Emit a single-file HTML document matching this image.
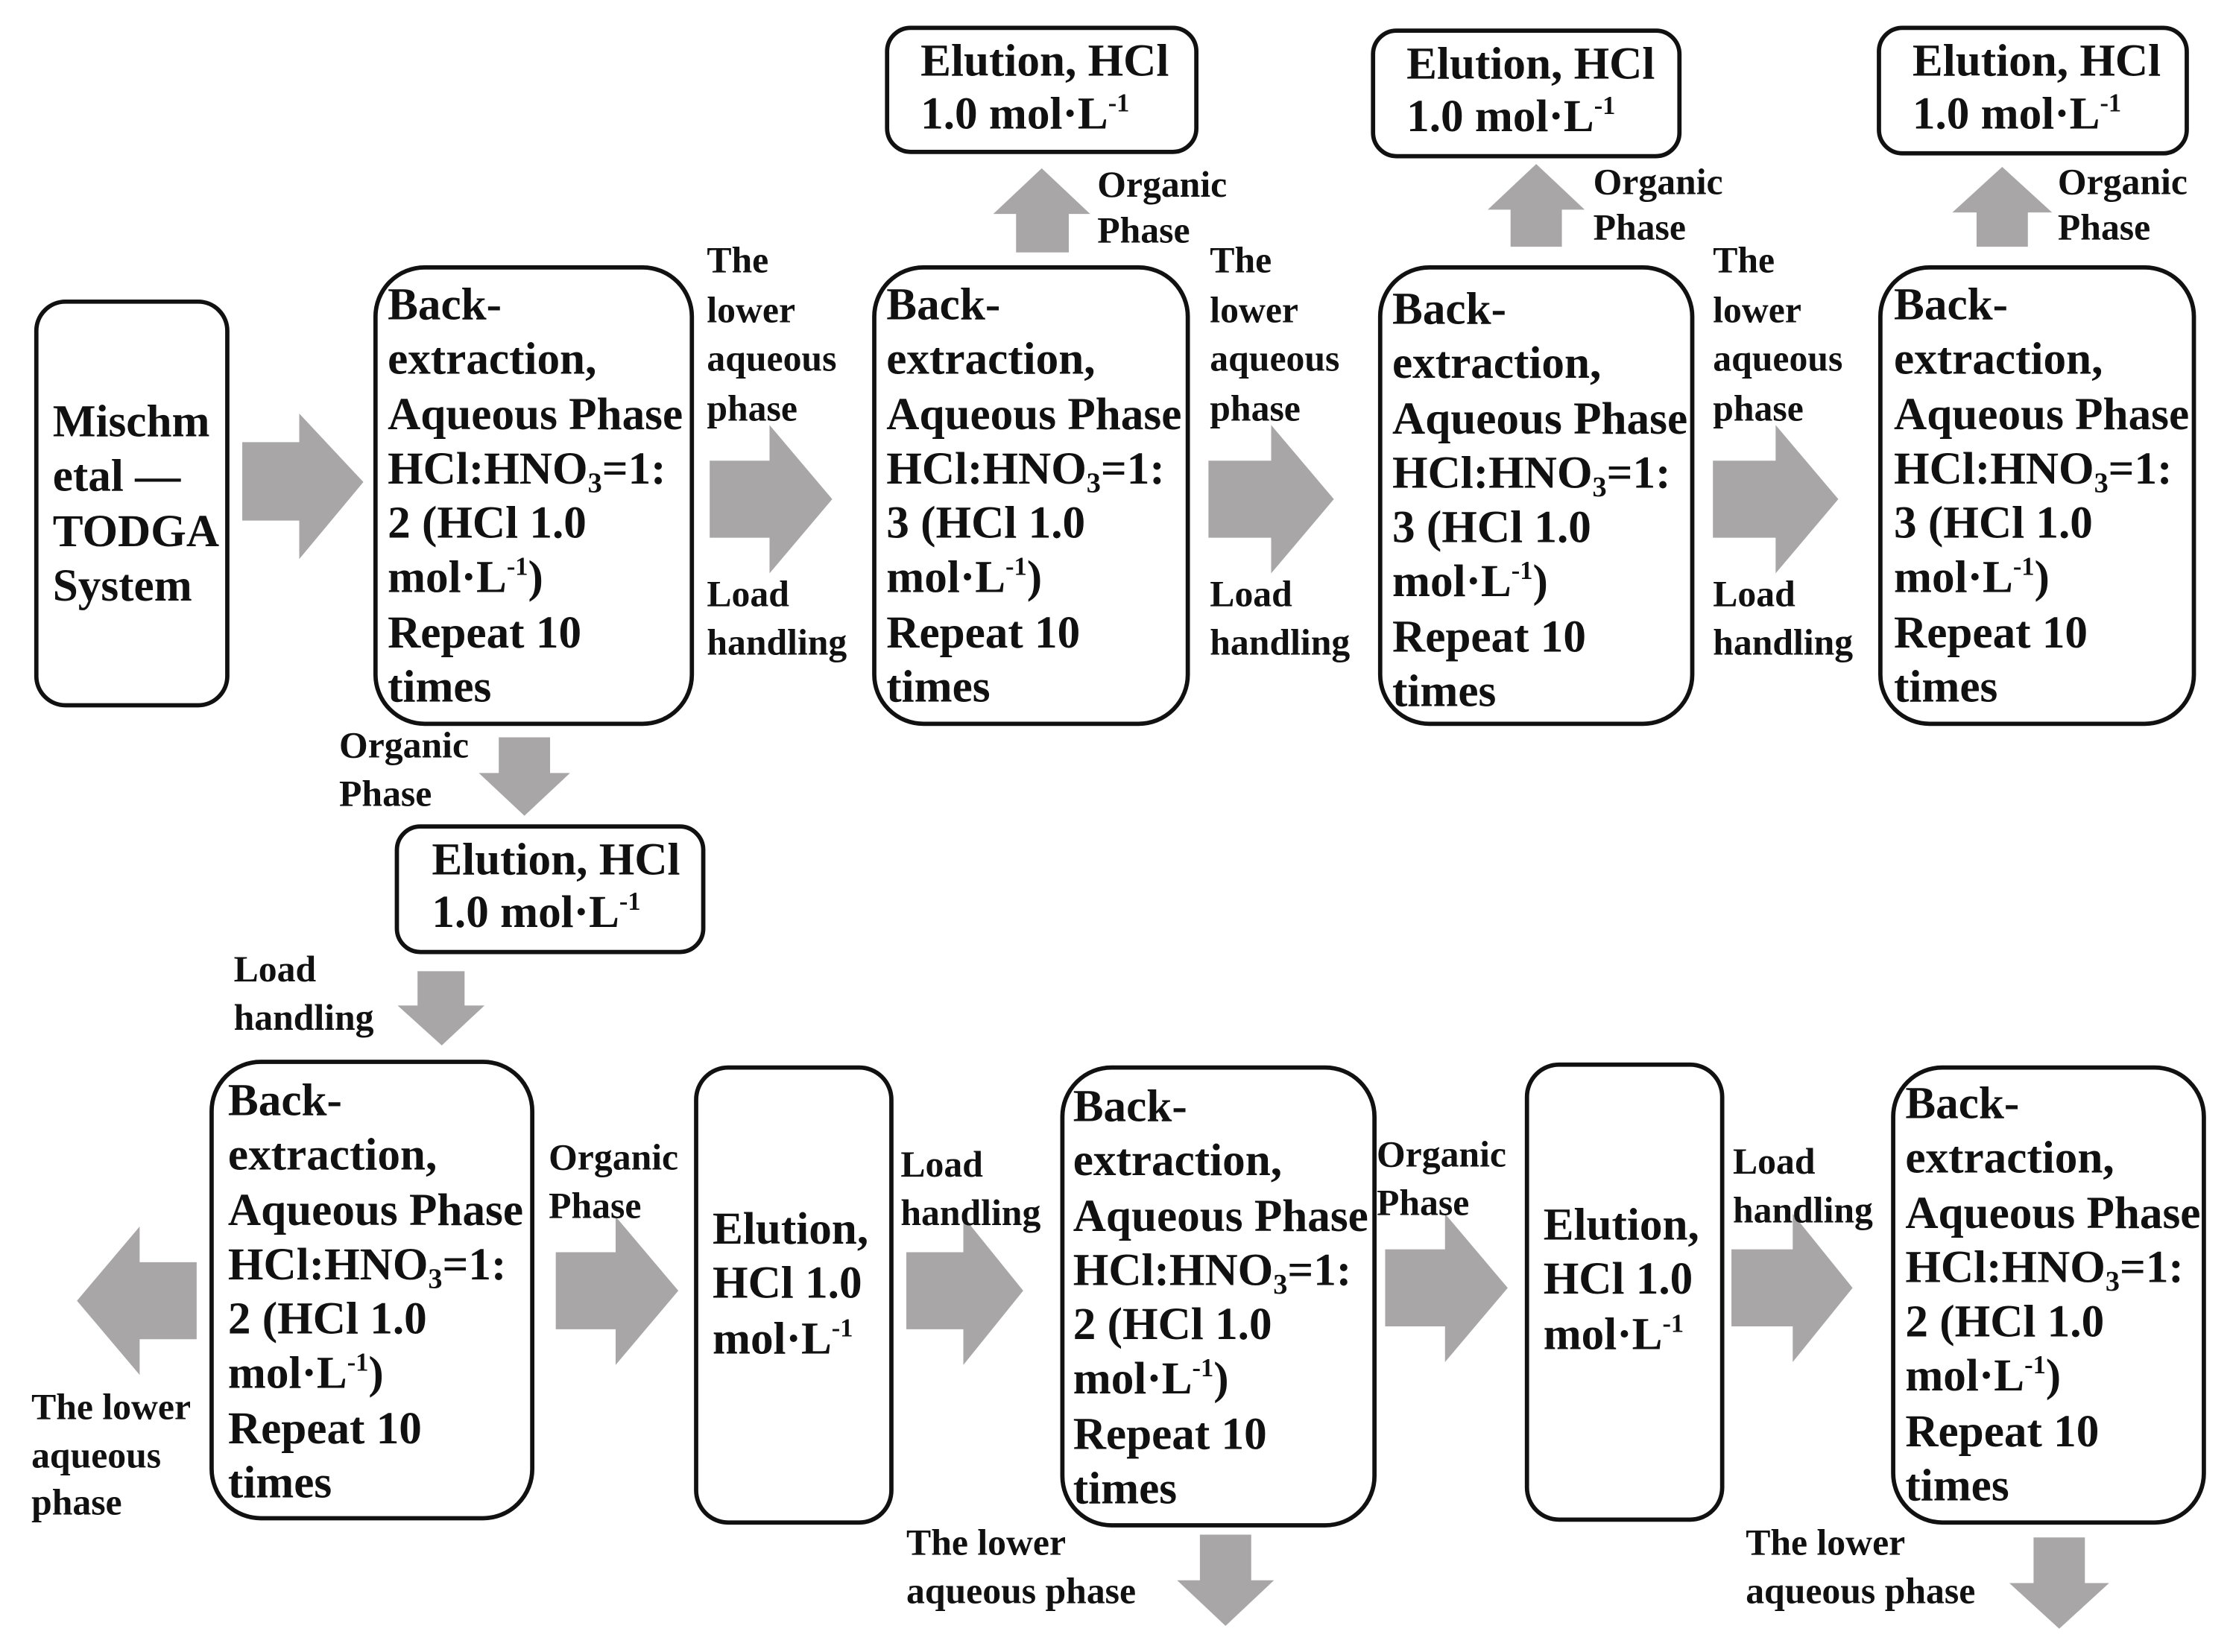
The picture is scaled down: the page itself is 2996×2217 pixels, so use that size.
<!DOCTYPE html>
<html><head><meta charset="utf-8"><style>
html,body{margin:0;padding:0;background:#fff;}
#wrap{position:relative;width:2996px;height:2217px;overflow:hidden;}
#c{position:absolute;left:0;top:0;width:1570px;height:1160px;transform:scale(1.912,1.914);transform-origin:0 0;}
.b{position:absolute;border:3px solid #111;border-radius:26px;box-sizing:border-box;}
.t{position:absolute;font-family:"Liberation Serif","Times New Roman","DejaVu Serif",serif;font-weight:bold;font-size:32px;line-height:38.3px;color:#111;white-space:nowrap;}
.l{position:absolute;font-family:"Liberation Serif","Times New Roman","DejaVu Serif",serif;font-weight:bold;font-size:26px;line-height:33.5px;color:#111;white-space:nowrap;}
sub{font-size:20px;vertical-align:-6px;line-height:0;}
sup{font-size:18px;vertical-align:12px;line-height:0;}
svg{position:absolute;left:0;top:0;}
</style></head><body><div id="wrap"><div id="c">
<svg width="1570" height="1160" fill="#a8a6a6">
<polygon points="170,310 210,310 210,290 255,338 210,392 210,365 170,365"/>
<polygon points="498,323 540,323 540,298 584,350 540,402 540,377 498,377"/>
<polygon points="848,323 892,323 892,298 936,350 892,402 892,377 848,377"/>
<polygon points="1202,323 1246,323 1246,298 1290,350 1246,402 1246,377 1202,377"/>
<polygon points="390,878 432,878 432,853 476,905 432,957 432,932 390,932"/>
<polygon points="636,878 676,878 676,853 718,905 676,957 676,932 636,932"/>
<polygon points="972,876 1014,876 1014,851 1058,903 1014,955 1014,930 972,930"/>
<polygon points="1215,876 1258,876 1258,851 1300,903 1258,955 1258,930 1215,930"/>
<polygon points="138,885 98,885 98,860 54,912 98,964 98,939 138,939"/>
<polygon points="713,177 713,150 697,150 731,118 765,150 750,150 750,177"/>
<polygon points="1060,173 1060,147 1044,147 1078,115 1112,147 1096,147 1096,173"/>
<polygon points="1387,173 1387,149 1370,149 1405,117 1440,149 1423,149 1423,173"/>
<polygon points="350,517 386,517 386,542 400,542 368,572 336,542 350,542"/>
<polygon points="293,681 326,681 326,705 340,705 310,733 279,705 293,705"/>
<polygon points="842,1076 878,1076 878,1108 894,1108 860,1140 826,1108 842,1108"/>
<polygon points="1427,1078 1463,1078 1463,1110 1480,1110 1445,1142 1410,1110 1427,1110"/>
</svg>

<div class="b" style="left:24px;top:210px;width:137px;height:286px;border-radius:22px"></div>
<div class="t" style="left:37px;top:276px">Mischm<br>etal —<br>TODGA<br>System</div>

<div class="b" style="left:262px;top:186px;width:225px;height:323px;border-radius:36px"></div>
<div class="t" style="left:272px;top:194px">Back-<br>extraction,<br>Aqueous Phase<br>HCl:HNO<sub>3</sub>=1:<br>2 (HCl 1.0<br>mol·L<sup>-1</sup>)<br>Repeat 10<br>times</div>

<div class="b" style="left:612px;top:186px;width:223px;height:323px;border-radius:36px"></div>
<div class="t" style="left:622px;top:194px">Back-<br>extraction,<br>Aqueous Phase<br>HCl:HNO<sub>3</sub>=1:<br>3 (HCl 1.0<br>mol·L<sup>-1</sup>)<br>Repeat 10<br>times</div>

<div class="b" style="left:967px;top:186px;width:222px;height:323px;border-radius:36px"></div>
<div class="t" style="left:977px;top:197px">Back-<br>extraction,<br>Aqueous Phase<br>HCl:HNO<sub>3</sub>=1:<br>3 (HCl 1.0<br>mol·L<sup>-1</sup>)<br>Repeat 10<br>times</div>

<div class="b" style="left:1318px;top:186px;width:223px;height:323px;border-radius:36px"></div>
<div class="t" style="left:1329px;top:194px">Back-<br>extraction,<br>Aqueous Phase<br>HCl:HNO<sub>3</sub>=1:<br>3 (HCl 1.0<br>mol·L<sup>-1</sup>)<br>Repeat 10<br>times</div>

<div class="b" style="left:621px;top:18px;width:220px;height:90px;border-radius:18px"></div>
<div class="t" style="left:646px;top:24px;line-height:37px">Elution, HCl<br>1.0 mol·L<sup>-1</sup></div>
<div class="b" style="left:962px;top:20px;width:218px;height:91px;border-radius:18px"></div>
<div class="t" style="left:987px;top:26px;line-height:37px">Elution, HCl<br>1.0 mol·L<sup>-1</sup></div>
<div class="b" style="left:1317px;top:18px;width:219px;height:91px;border-radius:18px"></div>
<div class="t" style="left:1342px;top:24px;line-height:37px">Elution, HCl<br>1.0 mol·L<sup>-1</sup></div>

<div class="l" style="left:770px;top:114px;line-height:32px">Organic<br>Phase</div>
<div class="l" style="left:1118px;top:112px;line-height:32px">Organic<br>Phase</div>
<div class="l" style="left:1444px;top:112px;line-height:32px">Organic<br>Phase</div>

<div class="l" style="left:496px;top:166px;line-height:34.7px">The<br>lower<br>aqueous<br>phase</div>
<div class="l" style="left:849px;top:166px;line-height:34.7px">The<br>lower<br>aqueous<br>phase</div>
<div class="l" style="left:1202px;top:166px;line-height:34.7px">The<br>lower<br>aqueous<br>phase</div>
<div class="l" style="left:496px;top:400px">Load<br>handling</div>
<div class="l" style="left:849px;top:400px">Load<br>handling</div>
<div class="l" style="left:1202px;top:400px">Load<br>handling</div>

<div class="l" style="left:238px;top:506px">Organic<br>Phase</div>
<div class="b" style="left:277px;top:578px;width:218px;height:91px;border-radius:18px"></div>
<div class="t" style="left:303px;top:584px;line-height:37px">Elution, HCl<br>1.0 mol·L<sup>-1</sup></div>
<div class="l" style="left:164px;top:663px">Load<br>handling</div>

<div class="b" style="left:147px;top:743px;width:228px;height:323px;border-radius:36px"></div>
<div class="t" style="left:160px;top:752px">Back-<br>extraction,<br>Aqueous Phase<br>HCl:HNO<sub>3</sub>=1:<br>2 (HCl 1.0<br>mol·L<sup>-1</sup>)<br>Repeat 10<br>times</div>
<div class="l" style="left:22px;top:970px">The lower<br>aqueous<br>phase</div>
<div class="l" style="left:385px;top:795px">Organic<br>Phase</div>

<div class="b" style="left:487px;top:747px;width:140px;height:322px;border-radius:24px"></div>
<div class="t" style="left:500px;top:842px">Elution,<br>HCl 1.0<br>mol·L<sup>-1</sup></div>
<div class="l" style="left:632px;top:800px">Load<br>handling</div>

<div class="b" style="left:744px;top:747px;width:222px;height:324px;border-radius:36px"></div>
<div class="t" style="left:753px;top:756px">Back-<br>extraction,<br>Aqueous Phase<br>HCl:HNO<sub>3</sub>=1:<br>2 (HCl 1.0<br>mol·L<sup>-1</sup>)<br>Repeat 10<br>times</div>
<div class="l" style="left:636px;top:1065px">The lower<br>aqueous phase</div>
<div class="l" style="left:966px;top:793px">Organic<br>Phase</div>

<div class="b" style="left:1070px;top:745px;width:140px;height:322px;border-radius:24px"></div>
<div class="t" style="left:1083px;top:839px">Elution,<br>HCl 1.0<br>mol·L<sup>-1</sup></div>
<div class="l" style="left:1216px;top:798px">Load<br>handling</div>

<div class="b" style="left:1327px;top:747px;width:221px;height:322px;border-radius:36px"></div>
<div class="t" style="left:1337px;top:754px">Back-<br>extraction,<br>Aqueous Phase<br>HCl:HNO<sub>3</sub>=1:<br>2 (HCl 1.0<br>mol·L<sup>-1</sup>)<br>Repeat 10<br>times</div>
<div class="l" style="left:1225px;top:1065px">The lower<br>aqueous phase</div>
</div></div></body></html>
